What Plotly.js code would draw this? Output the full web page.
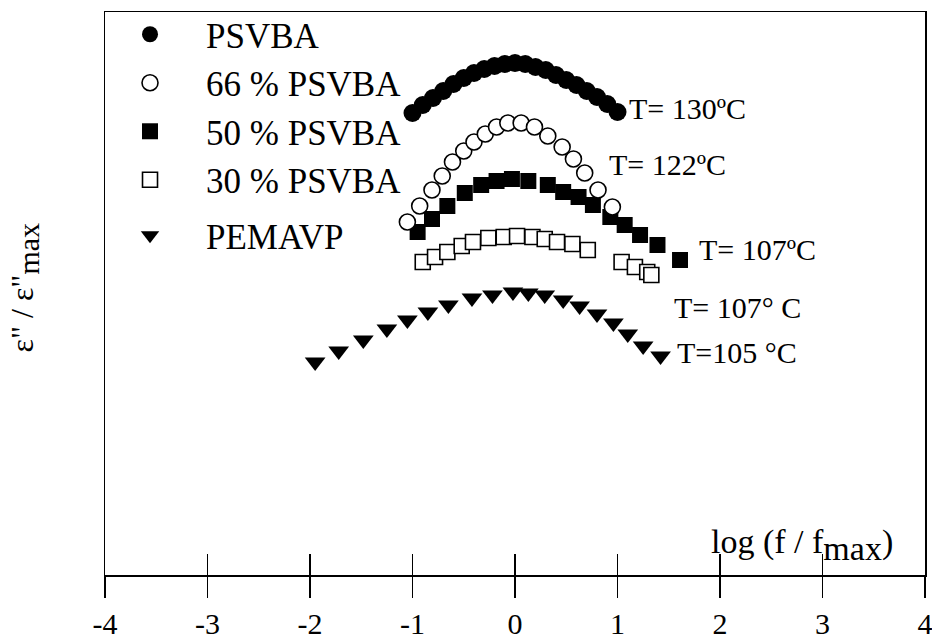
<!DOCTYPE html>
<html>
<head>
<meta charset="utf-8">
<script src="https://cdn.plot.ly/plotly-3.0.1.min.js"></script>
<style>html,body{margin:0;padding:0;background:#fff;}#chart{width:932px;height:644px;}</style>
</head>
<body>
<div id="chart"></div>
<script>
// ---- data (x = log(f/fmax), y = eps''/eps''max, vertically offset per series) ----
const xPSVBA = [-1.0,-0.9,-0.8,-0.7,-0.6,-0.5,-0.4,-0.3,-0.2,-0.1,0.0,0.1,0.2,0.3,0.4,0.5,0.6,0.7,0.8,0.9,1.0];
const yPSVBA = [4.62,4.70,4.77,4.84,4.91,4.97,5.02,5.06,5.09,5.11,5.12,5.11,5.08,5.05,5.00,4.95,4.90,4.84,4.78,4.71,4.63];

const x66 = [-1.05,-0.93,-0.81,-0.71,-0.61,-0.50,-0.40,-0.29,-0.18,-0.07,0.06,0.19,0.32,0.46,0.57,0.68,0.81,0.95];
const y66 = [3.53,3.69,3.85,3.99,4.13,4.24,4.33,4.41,4.48,4.52,4.52,4.48,4.39,4.28,4.16,4.02,3.85,3.68];

const x50 = [-0.95,-0.81,-0.66,-0.49,-0.33,-0.18,-0.03,0.13,0.32,0.47,0.62,0.76,0.93,1.07,1.22,1.39,1.61];
const y50 = [3.43,3.56,3.69,3.82,3.90,3.94,3.96,3.94,3.90,3.83,3.78,3.70,3.58,3.50,3.40,3.30,3.15];

const x30 = [-0.90,-0.78,-0.66,-0.52,-0.41,-0.26,-0.11,0.02,0.17,0.29,0.41,0.56,0.71,1.04,1.17,1.29,1.33];
const y30 = [3.13,3.18,3.23,3.29,3.33,3.37,3.38,3.39,3.38,3.36,3.33,3.31,3.25,3.13,3.08,3.03,3.00];

const xPEMAVP = [-1.95,-1.72,-1.48,-1.25,-1.05,-0.85,-0.65,-0.42,-0.22,-0.02,0.13,0.29,0.47,0.63,0.80,0.96,1.10,1.25,1.42];
const yPEMAVP = [2.13,2.24,2.35,2.46,2.55,2.63,2.70,2.77,2.80,2.83,2.82,2.80,2.75,2.69,2.61,2.52,2.41,2.29,2.19];

const seriesNames = ["PSVBA", "66 % PSVBA", "50 % PSVBA", "30 % PSVBA", "PEMAVP"];
const tempLabels = ["T= 130ºC", "T= 122ºC", "T= 107ºC", "T= 107° C", "T=105 °C"];
const tickVals = [-4,-3,-2,-1,0,1,2,3,4];
const tickText = ["-4","-3","-2","-1","0","1","2","3","4"];

// ---- styling ----
const SERIF = "Liberation Serif, Times New Roman, serif";
const BLACK = "#000000";

const traces = [
  {x: xPSVBA, y: yPSVBA, name: seriesNames[0], legendrank: 1,
   mode: "markers", type: "scatter",
   marker: {symbol: "circle", size: 18, color: BLACK, line: {width: 0}}},
  {x: x50, y: y50, name: seriesNames[2], legendrank: 3,
   mode: "markers", type: "scatter",
   marker: {symbol: "square", size: 16, color: BLACK, line: {width: 0}}},
  {x: x66, y: y66, name: seriesNames[1], legendrank: 2,
   mode: "markers", type: "scatter",
   marker: {symbol: "circle", size: 16, color: "#ffffff", line: {width: 1.6, color: BLACK}}},
  {x: x30, y: y30, name: seriesNames[3], legendrank: 4,
   mode: "markers", type: "scatter",
   marker: {symbol: "square", size: 15, color: "#ffffff", line: {width: 1.6, color: BLACK}}},
  {x: xPEMAVP, y: yPEMAVP, name: seriesNames[4], legend: "legend2",
   mode: "markers", type: "scatter",
   marker: {symbol: "triangle-down", size: 18, color: BLACK, line: {width: 0}}},
  // empty trace that only carries the inward half of the crossing x ticks
  {x: [], y: [], xaxis: "x2", yaxis: "y", type: "scatter", mode: "markers",
   showlegend: false, hoverinfo: "skip"}
];

// label anchors: [x, y] in data units, left-anchored
const tempPos = [[1.09, 4.67], [0.90, 4.11], [1.78, 3.26], [1.53, 2.68], [1.56, 2.23]];
const annotations = tempLabels.map((t, i) => ({
  text: t, x: tempPos[i][0], y: tempPos[i][1], xref: "x", yref: "y",
  xanchor: "left", yanchor: "middle", showarrow: false,
  font: {family: SERIF, size: 30, color: BLACK}
}));
annotations.push({
  text: "log (f / f<sub><span style=\"font-size:34px\">max</span></sub>)", x: 3.71, y: 0.30, xref: "x", yref: "y",
  xanchor: "right", yanchor: "middle", showarrow: false,
  font: {family: SERIF, size: 34, color: BLACK}
});
annotations.push({
  text: "ε\" / ε\"<sub><span style=\"font-size:30px\">max</span></sub>", x: -0.098, y: 0.51, xref: "paper", yref: "paper",
  xanchor: "center", yanchor: "middle", textangle: -90, showarrow: false,
  font: {family: SERIF, size: 32, color: BLACK}
});

const legendStyle = {
  font: {family: SERIF, size: 35, color: BLACK},
  bgcolor: "rgba(0,0,0,0)", borderwidth: 0,
  xanchor: "left", yanchor: "top", itemwidth: 102, tracegroupgap: 0
};

const layout = {
  width: 932, height: 644,
  margin: {l: 105, r: 7, t: 12, b: 69, pad: 0, autoexpand: false},
  paper_bgcolor: "#ffffff", plot_bgcolor: "#ffffff",
  font: {family: SERIF, color: BLACK},
  showlegend: true,
  legend: Object.assign({}, legendStyle, {x: -0.0134, y: 1.0124}),
  legend2: Object.assign({}, legendStyle, {x: -0.0134, y: 0.6554}),
  xaxis: {
    range: [-4, 4], tickmode: "array", tickvals: tickVals, ticktext: tickText,
    ticks: "outside", ticklen: 21, tickwidth: 1.8, tickcolor: BLACK,
    showline: true, linewidth: 1.5, linecolor: BLACK, mirror: true,
    showgrid: false, zeroline: false, ticklabeloverflow: "allow",
    tickfont: {family: SERIF, size: 30, color: BLACK}
  },
  xaxis2: {
    range: [-4, 4], overlaying: "x", anchor: "y", side: "bottom",
    tickmode: "array", tickvals: tickVals,
    ticks: "inside", ticklen: 21, tickwidth: 1.8, tickcolor: BLACK,
    showticklabels: false, showline: false, showgrid: false, zeroline: false
  },
  yaxis: {
    range: [0, 5.63], showticklabels: false, ticks: "",
    showline: true, linewidth: 1.5, linecolor: BLACK, mirror: true,
    showgrid: false, zeroline: false
  },
  annotations: annotations
};

Plotly.newPlot("chart", traces, layout, {displayModeBar: false, staticPlot: true});
</script>
</body>
</html>
